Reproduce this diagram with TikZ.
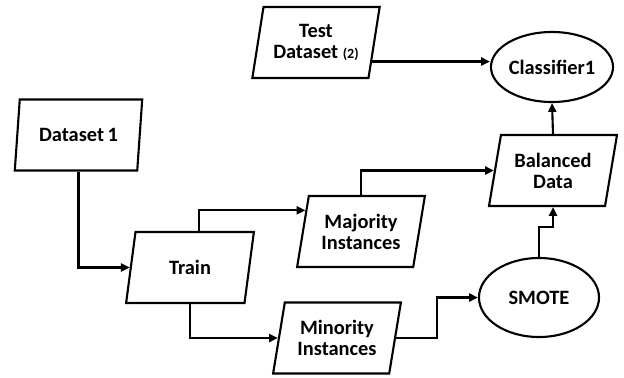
\documentclass[tikz,border=0pt]{standalone}
\usepackage{fontspec}
\setmainfont{Carlito}
\usetikzlibrary{shapes.geometric,arrows.meta,calc}

\begin{document}
\begin{tikzpicture}[x=0.025cm,y=-0.025cm,
  datablock/.style={draw,line width=1.5pt,trapezium,trapezium left angle=76,
    trapezium right angle=104,trapezium stretches=true,minimum width=3.2cm,
    minimum height=1.775cm,inner sep=0pt,align=center,
    font=\fontsize{14.5}{15}\selectfont\bfseries},
  procblock/.style={draw,line width=1.5pt,ellipse,inner sep=0pt,
    font=\fontsize{14.5}{15}\selectfont\bfseries},
  flow/.style={line width=1.5pt,-{Triangle[length=2.2mm,width=2mm]}}]
\useasboundingbox (0,0) rectangle (624,377);
% data blocks
\node[datablock] (test) at (316,42.5) {Test\\Dataset {\fontsize{10}{10}\selectfont(2)}};
\node[datablock] (data1) at (78.5,135) {Dataset\,1};
\node[datablock] (train) at (190,267.5) {Train};
\node[datablock] (major) at (361,231.5) {Majority\\Instances};
\node[datablock] (minor) at (337,338) {Minority\\Instances};
\node[datablock] (balanced) at (553,170.5) {Balanced\\Data};
% processes
\node[procblock,minimum width=3cm,minimum height=1.975cm] (smote) at (539,297.5) {SMOTE};
\node[procblock,minimum width=2.6cm,minimum height=1.75cm] (classifier) at (552,67) {Classifier1};
% connectors
\coordinate (testout) at ($(test.bottom right corner)!0.24!(test.top right corner)$);
\coordinate (trainout) at ($(train.north)+(9,0)$);
\coordinate (majorin) at ($(major.bottom left corner)!0.79!(major.top left corner)$);
\draw[flow] (testout) -- (testout -| classifier.west);
\draw[flow] (data1.south) |- (train.west);
\draw[flow] (trainout) |- (majorin);
\draw[flow] (train.south) |- (minor.west);
\draw[flow] (major.north) |- (balanced.west);
\draw[flow] (minor.east) -| ($(minor.east)!0.5!(smote.west)$) |- (smote.west);
\draw[flow] (smote.north) |- ($(smote.north)!0.6!(balanced.south)$) -| (balanced.south);
\draw[flow] (balanced.north) -- (classifier.south);
\end{tikzpicture}
\end{document}
